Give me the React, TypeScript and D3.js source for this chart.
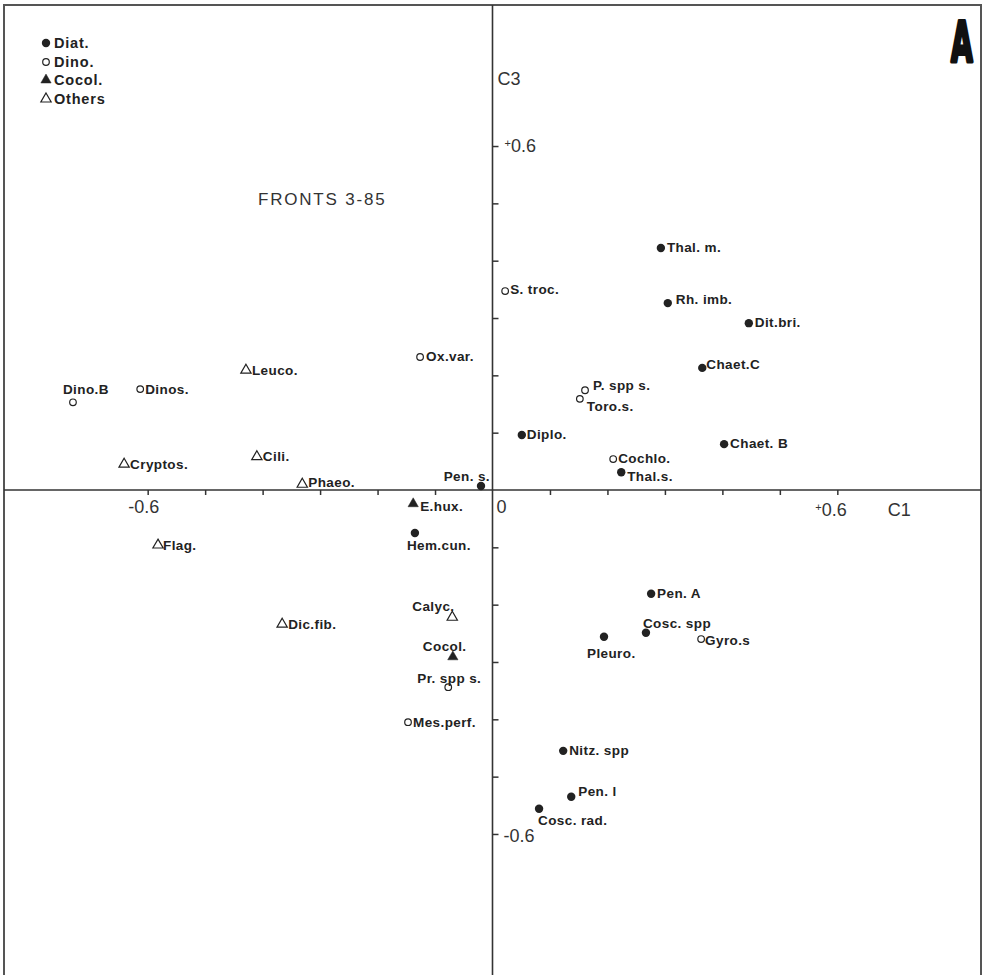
import * as d3 from "d3";
import { useEffect, useRef } from "react";

// species groups used in the legend
const groups = ["Diat.", "Dino.", "Cocol.", "Others"];

// taxon names with their scores on the C1 and C3 axes
const taxa = [
  "Thal. m.", "Rh. imb.", "Dit.bri.", "Chaet.C", "Diplo.", "Chaet. B", "Thal.s.", "Pen. s.",
  "Hem.cun.", "Pen. A", "Cosc. spp", "Pleuro.", "Nitz. spp", "Pen. l", "Cosc. rad.",
  "S. troc.", "Ox.var.", "P. spp s.", "Toro.s.", "Dino.B", "Dinos.", "Cochlo.", "Gyro.s",
  "Pr. spp s.", "Mes.perf.",
  "E.hux.", "Cocol.",
  "Leuco.", "Cryptos.", "Cili.", "Phaeo.", "Flag.", "Dic.fib.", "Calyc."
];
const c1 = [
  0.293, 0.305, 0.446, 0.365, 0.051, 0.403, 0.224, -0.020,
  -0.135, 0.276, 0.267, 0.194, 0.123, 0.137, 0.081,
  0.022, -0.126, 0.161, 0.152, -0.730, -0.613, 0.210, 0.363,
  -0.077, -0.147,
  -0.138, -0.069,
  -0.429, -0.641, -0.410, -0.331, -0.582, -0.366, -0.070
];
const c3 = [
  0.422, 0.326, 0.291, 0.213, 0.096, 0.080, 0.031, 0.007,
  -0.075, -0.181, -0.249, -0.256, -0.455, -0.535, -0.556,
  0.347, 0.232, 0.174, 0.159, 0.153, 0.176, 0.054, -0.260,
  -0.344, -0.405,
  -0.024, -0.291,
  0.209, 0.045, 0.058, 0.010, -0.096, -0.234, -0.222
];
const taxonGroup = [
  0, 0, 0, 0, 0, 0, 0, 0,
  0, 0, 0, 0, 0, 0, 0,
  1, 1, 1, 1, 1, 1, 1, 1,
  1, 1,
  2, 2,
  3, 3, 3, 3, 3, 3, 3
];
const axisTicks = [-0.6, -0.5, -0.4, -0.3, -0.2, -0.1, 0.1, 0.2, 0.3, 0.4, 0.5, 0.6];

// label offsets from the marker (layout only): [dx, dy, anchor]
const labelAt: Record<string, [number, number, string?]> = {
  "Thal. m.": [6, 4], "Rh. imb.": [8, 1], "Dit.bri.": [6, 4], "Chaet.C": [4, 1],
  "Diplo.": [5, 4], "Chaet. B": [6, 4], "Thal.s.": [6, 9], "Pen. s.": [9, -5, "end"],
  "Hem.cun.": [-8, 17], "Pen. A": [6, 4], "Cosc. spp": [-3, -5], "Pleuro.": [-17, 21],
  "Nitz. spp": [6, 4], "Pen. l": [7, -1], "Cosc. rad.": [-1, 16],
  "S. troc.": [5, 3], "Ox.var.": [6, 4], "P. spp s.": [8, 0], "Toro.s.": [7, 12],
  "Dino.B": [-10, -8], "Dinos.": [5, 5], "Cochlo.": [5, 4], "Gyro.s": [4, 6],
  "Pr. spp s.": [-31, -4], "Mes.perf.": [5, 5],
  "E.hux.": [7, 7], "Cocol.": [-30, -6],
  "Leuco.": [6, 5], "Cryptos.": [6, 5], "Cili.": [6, 4], "Phaeo.": [6, 3],
  "Flag.": [5, 5], "Dic.fib.": [6, 5], "Calyc.": [-40, -6]
};

const ink = "#222";

function marker(g, grp, cx, cy) {
  if (grp === 0) {
    g.append("circle").attr("cx", cx).attr("cy", cy).attr("r", 4.2).attr("fill", ink);
  } else if (grp === 1) {
    g.append("circle").attr("cx", cx).attr("cy", cy).attr("r", 3.3)
      .attr("fill", "white").attr("stroke", ink).attr("stroke-width", 1.2);
  } else {
    g.append("path")
      .attr("d", d3.symbol(d3.symbolTriangle, 46)())
      .attr("transform", `translate(${cx},${cy})`)
      .attr("fill", grp === 2 ? ink : "white")
      .attr("stroke", ink)
      .attr("stroke-width", grp === 2 ? 0.5 : 1.2);
  }
}

export default function App() {
  const svgRef = useRef(null);
  const width = 989, height = 975;

  useEffect(() => {
    const svg = d3.select(svgRef.current);
    svg.selectAll("*").remove();

    const x = d3.scaleLinear([-0.85, 0.85], [4, 981]);
    const y = d3.scaleLinear([-0.846, 0.846], [975, 5]);

    // frame
    svg.append("path")
      .attr("d", `M4,${height} V5 H981 V${height}`)
      .attr("fill", "none").attr("stroke", "#555").attr("stroke-width", 2);

    // axes through the origin
    const xAxis = d3.axisBottom(x).tickValues(axisTicks).tickSize(5).tickFormat(() => "");
    const gx = svg.append("g").attr("transform", `translate(0,${y(0)})`).call(xAxis);
    gx.select(".domain").remove();
    gx.selectAll("line").attr("stroke", "#333").attr("stroke-width", 1.5);
    svg.append("line").attr("x1", 4).attr("x2", 981).attr("y1", y(0)).attr("y2", y(0))
      .attr("stroke", "#333").attr("stroke-width", 1.6);

    const yAxis = d3.axisRight(y).tickValues(axisTicks).tickSize(6).tickFormat(() => "");
    const gy = svg.append("g").attr("transform", `translate(${x(0)},0)`).call(yAxis);
    gy.select(".domain").remove();
    gy.selectAll("line").attr("stroke", "#333").attr("stroke-width", 1.5);
    svg.append("line").attr("x1", x(0)).attr("x2", x(0)).attr("y1", 5).attr("y2", height)
      .attr("stroke", "#333").attr("stroke-width", 1.6);

    // axis labels (thin font)
    const thin = svg.append("g")
      .attr("font-family", "'Liberation Sans', Arial, sans-serif")
      .attr("font-size", 18).attr("fill", "#333");
    thin.append("text").attr("x", x(-0.6) - 4).attr("y", y(0) + 23)
      .attr("text-anchor", "middle").text("-0.6");
    thin.append("text").attr("x", x(0) + 4).attr("y", y(0) + 23).text("0");
    const xp = thin.append("text").attr("x", x(0.6) - 22).attr("y", y(0) + 26);
    xp.append("tspan").attr("font-size", 11).attr("dy", -5).text("+");
    xp.append("tspan").attr("dy", 5).text("0.6");
    thin.append("text").attr("x", x(0.7) - 7).attr("y", y(0) + 26).text("C1");
    thin.append("text").attr("x", x(0) + 5).attr("y", 85).text("C3");
    const yp = thin.append("text").attr("x", x(0) + 12).attr("y", y(0.6) + 6);
    yp.append("tspan").attr("font-size", 11).attr("dy", -5).text("+");
    yp.append("tspan").attr("dy", 5).text("0.6");
    thin.append("text").attr("x", x(0) + 11).attr("y", y(-0.6) + 8).text("-0.6");
    thin.append("text").attr("x", 258).attr("y", 205).attr("font-size", 17)
      .attr("letter-spacing", 1.8).text("FRONTS 3-85");

    // panel letter, bold and condensed
    svg.append("text")
      .attr("transform", "translate(951,61) scale(0.5,1)")
      .attr("font-family", "'DejaVu Sans', sans-serif")
      .attr("font-weight", "bold").attr("font-size", 56).attr("fill", "#111")
      .attr("stroke", "#111").attr("stroke-width", 4).attr("stroke-linejoin", "round")
      .text("A");

    // points and labels
    const pts = svg.append("g")
      .attr("font-family", "'Liberation Sans', Arial, sans-serif")
      .attr("font-weight", "bold").attr("font-size", 13.5)
      .attr("letter-spacing", 0.4).attr("fill", ink);
    taxa.forEach((name, i) => {
      const cx = x(c1[i]), cy = y(c3[i]);
      marker(pts, taxonGroup[i], cx, cy);
      const [dx, dy, anchor] = labelAt[name] || [6, 4];
      pts.append("text").attr("x", cx + dx).attr("y", cy + dy)
        .attr("text-anchor", anchor || "start").text(name);
    });

    // legend
    const leg = svg.append("g")
      .attr("font-family", "'Liberation Sans', Arial, sans-serif")
      .attr("font-weight", "bold").attr("font-size", 14.5)
      .attr("letter-spacing", 0.8).attr("fill", ink);
    const legY = [43, 62, 80, 99];
    groups.forEach((gname, i) => {
      marker(leg, i, 46, legY[i]);
      leg.append("text").attr("x", 54).attr("y", legY[i] + 5).text(gname);
    });
  }, []);

  return (
    <svg ref={svgRef} width={width} height={height}
      style={{ position: "absolute", left: 0, top: 0, background: "white" }} />
  );
}
